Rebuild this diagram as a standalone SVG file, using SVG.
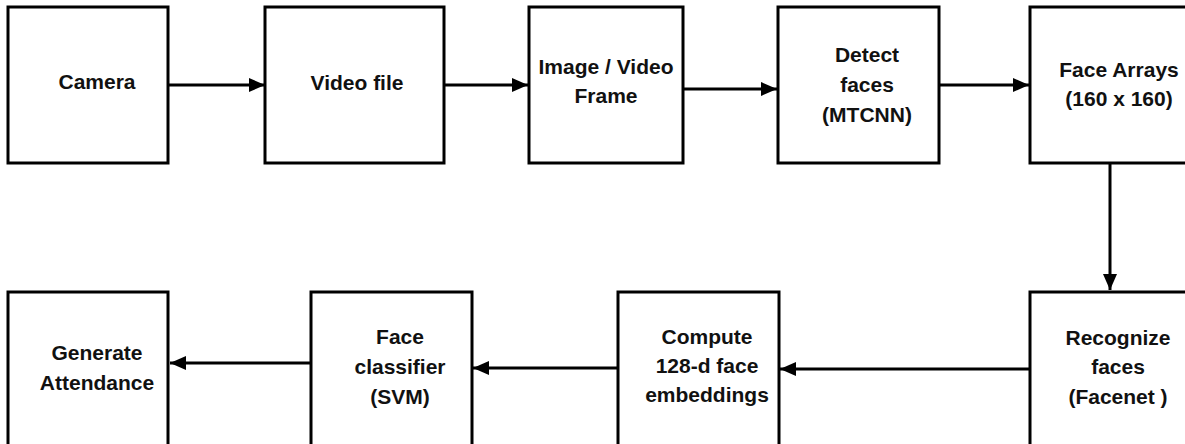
<svg xmlns="http://www.w3.org/2000/svg" width="1185" height="444" viewBox="0 0 1185 444">
<defs>
<style>
.box{fill:#fff;stroke:#000;stroke-width:3}
.lbl{font-family:"Liberation Sans",Arial,sans-serif;font-weight:bold;font-size:21px;fill:#111;text-anchor:middle}
.edge{fill:none;stroke:#000;stroke-width:3}
</style>
<marker id="arr" viewBox="0 0 16 14" refX="16" refY="7" markerWidth="16" markerHeight="14" markerUnits="userSpaceOnUse" orient="auto">
<path d="M0,0 L16,7 L0,14 Z" fill="#000"/>
</marker>
</defs>
<rect width="1185" height="444" fill="#fff"/>
<g id="connectors">
<line class="edge" x1="168" y1="85" x2="265" y2="85" marker-end="url(#arr)"/>
<line class="edge" x1="444" y1="85" x2="528" y2="85" marker-end="url(#arr)"/>
<line class="edge" x1="683" y1="89" x2="777" y2="89" marker-end="url(#arr)"/>
<line class="edge" x1="939" y1="85" x2="1029" y2="85" marker-end="url(#arr)"/>
<line class="edge" x1="1110" y1="163" x2="1110" y2="290" marker-end="url(#arr)"/>
<line class="edge" x1="1030" y1="369" x2="780" y2="369" marker-end="url(#arr)"/>
<line class="edge" x1="618" y1="368" x2="473" y2="368" marker-end="url(#arr)"/>
<line class="edge" x1="311" y1="363" x2="170" y2="363" marker-end="url(#arr)"/>
</g>
<g id="camera">
<rect class="box" x="8" y="7" width="160" height="156"/>
<text class="lbl" x="97" y="89">Camera</text>
</g>
<g id="video-file">
<rect class="box" x="265" y="7" width="179" height="156"/>
<text class="lbl" x="357" y="90">Video file</text>
</g>
<g id="image-frame">
<rect class="box" x="529" y="7" width="154" height="156"/>
<text class="lbl" x="606" y="74">Image / Video</text>
<text class="lbl" x="606" y="103">Frame</text>
</g>
<g id="detect-faces">
<rect class="box" x="778" y="7" width="161" height="156"/>
<text class="lbl" x="867" y="62">Detect</text>
<text class="lbl" x="867" y="92">faces</text>
<text class="lbl" x="867" y="122">(MTCNN)</text>
</g>
<g id="face-arrays">
<rect class="box" x="1030" y="7" width="170" height="156"/>
<text class="lbl" x="1119" y="77">Face Arrays</text>
<text class="lbl" x="1119" y="106">(160 x 160)</text>
</g>
<g id="recognize-faces">
<rect class="box" x="1030" y="292" width="170" height="170"/>
<text class="lbl" x="1118" y="345">Recognize</text>
<text class="lbl" x="1118" y="374">faces</text>
<text class="lbl" x="1118" y="404">(Facenet )</text>
</g>
<g id="compute-embeddings">
<rect class="box" x="618" y="292" width="161" height="170"/>
<text class="lbl" x="707" y="344">Compute</text>
<text class="lbl" x="707" y="373">128-d face</text>
<text class="lbl" x="707" y="402">embeddings</text>
</g>
<g id="face-classifier">
<rect class="box" x="311" y="292" width="161" height="170"/>
<text class="lbl" x="400" y="344">Face</text>
<text class="lbl" x="400" y="374">classifier</text>
<text class="lbl" x="400" y="404">(SVM)</text>
</g>
<g id="generate-attendance">
<rect class="box" x="8" y="292" width="160" height="170"/>
<text class="lbl" x="97" y="360">Generate</text>
<text class="lbl" x="97" y="390">Attendance</text>
</g>
</svg>
